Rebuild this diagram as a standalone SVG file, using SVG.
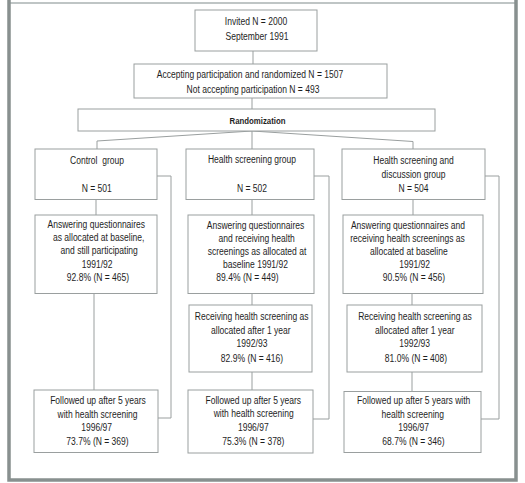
<svg xmlns="http://www.w3.org/2000/svg" width="525" height="483" viewBox="0 0 525 483">
<style>
.box{fill:#fff;stroke:#9a9f9f;stroke-width:1}
.ln{fill:none;stroke:#9a9f9f;stroke-width:1}
text{font-family:"Liberation Sans",Arial,sans-serif;font-size:10.8px;fill:#1e1e1e;text-anchor:middle}
.b{font-weight:bold;font-size:9.9px}
</style>
<rect width="525" height="483" fill="#fff"/>
<g id="frame">
<line x1="9" y1="3" x2="516" y2="3" stroke="#aab2b2" stroke-width="1.3"/>
<path d="M9 0 V480 H516 V0" fill="none" stroke="#88908f" stroke-width="3.5"/>
</g>
<g id="connectors">
<line class="ln" x1="253" y1="51" x2="253" y2="64"/>
<line class="ln" x1="252" y1="98" x2="252" y2="109"/>
<polyline class="ln" points="252,131 97,141 97,149"/>
<line class="ln" x1="252" y1="131" x2="252" y2="149"/>
<polyline class="ln" points="252,131 413,141.5 413,149"/>
<polyline class="ln" points="157,176 171,176 171,418 158,418"/>
<polyline class="ln" points="314,176 329,176 329,419 313,419"/>
<polyline class="ln" points="485,176 499,176 499,419 481,419"/>
<line class="ln" x1="96" y1="199.5" x2="96" y2="215"/>
<line class="ln" x1="252" y1="199.5" x2="252" y2="215"/>
<line class="ln" x1="413" y1="199.5" x2="413" y2="215"/>
<line class="ln" x1="94" y1="293.5" x2="94" y2="390"/>
<line class="ln" x1="252" y1="293.5" x2="252" y2="305"/>
<line class="ln" x1="412" y1="293.5" x2="412" y2="305"/>
<line class="ln" x1="252" y1="372" x2="252" y2="390"/>
<line class="ln" x1="412" y1="372" x2="412" y2="391"/>
</g>
<g id="invited">
<rect class="box" x="195" y="10" width="122" height="41"/>
<text transform="translate(256 25) scale(.79 1)">Invited N = 2000</text>
<text transform="translate(257 39.5) scale(.79 1)">September 1991</text>
</g>
<g id="accepting">
<rect class="box" x="134" y="64" width="253" height="34"/>
<text transform="translate(250 77.5) scale(.79 1)">Accepting participation and randomized N = 1507</text>
<text transform="translate(253 93) scale(.79 1)">Not accepting participation N = 493</text>
</g>
<g id="randomization">
<rect class="box" x="78" y="109" width="357" height="22"/>
<text class="b" transform="translate(257.5 123.5) scale(.79 1)">Randomization</text>
</g>
<g id="control">
<rect class="box" x="35" y="149" width="122" height="50.5"/>
<text transform="translate(97 163.5) scale(.79 1)" xml:space="preserve">Control  group</text>
<text transform="translate(96.7 191.5) scale(.79 1)">N = 501</text>
</g>
<g id="screening">
<rect class="box" x="186" y="149" width="128" height="50.5"/>
<text transform="translate(252 163) scale(.79 1)">Health screening group</text>
<text transform="translate(252 191.5) scale(.79 1)">N = 502</text>
</g>
<g id="discussion">
<rect class="box" x="342" y="149" width="143" height="50.5"/>
<text transform="translate(413.5 164) scale(.79 1)">Health screening and</text>
<text transform="translate(413.5 177.5) scale(.79 1)">discussion group</text>
<text transform="translate(413.5 192) scale(.79 1)">N = 504</text>
</g>
<g id="control-baseline">
<rect class="box" x="35" y="215" width="122" height="78.5"/>
<text transform="translate(96.3 228) scale(.79 1)">Answering questionnaires</text>
<text transform="translate(98.7 241) scale(.79 1)">as allocated at baseline,</text>
<text transform="translate(99.2 254) scale(.79 1)">and still participating</text>
<text transform="translate(97.2 267.5) scale(.79 1)">1991/92</text>
<text transform="translate(98 280.5) scale(.79 1)">92.8% (N = 465)</text>
</g>
<g id="screening-baseline">
<rect class="box" x="188" y="215" width="126" height="78.5"/>
<text transform="translate(255.5 228.5) scale(.79 1)">Answering questionnaires</text>
<text transform="translate(256.7 241.5) scale(.79 1)">and receiving health</text>
<text transform="translate(257 254.5) scale(.79 1)">screenings as allocated at</text>
<text transform="translate(255.5 267.5) scale(.79 1)">baseline 1991/92</text>
<text transform="translate(247.5 280.5) scale(.79 1)">89.4% (N = 449)</text>
</g>
<g id="discussion-baseline">
<rect class="box" x="343" y="215" width="140" height="78.5"/>
<text transform="translate(408 228.5) scale(.79 1)">Answering questionnaires and</text>
<text transform="translate(407.5 241.5) scale(.79 1)">receiving health screenings as</text>
<text transform="translate(408.8 254.5) scale(.79 1)">allocated at baseline</text>
<text transform="translate(414.7 267.5) scale(.79 1)">1991/92</text>
<text transform="translate(414 280.5) scale(.79 1)">90.5% (N = 456)</text>
</g>
<g id="screening-year1">
<rect class="box" x="189" y="305" width="123" height="67"/>
<text transform="translate(251.7 319.5) scale(.79 1)">Receiving health screening as</text>
<text transform="translate(250.8 334) scale(.79 1)">allocated after 1 year</text>
<text transform="translate(252 347) scale(.79 1)">1992/93</text>
<text transform="translate(252 362) scale(.79 1)">82.9% (N = 416)</text>
</g>
<g id="discussion-year1">
<rect class="box" x="347" y="305" width="135" height="67"/>
<text transform="translate(415 319.5) scale(.79 1)">Receiving health screening as</text>
<text transform="translate(414.7 334) scale(.79 1)">allocated after 1 year</text>
<text transform="translate(414.7 347) scale(.79 1)">1992/93</text>
<text transform="translate(416 362) scale(.79 1)">81.0% (N = 408)</text>
</g>
<g id="control-followup">
<rect class="box" x="34" y="390" width="124" height="62.5"/>
<text transform="translate(98 404) scale(.79 1)">Followed up after 5 years</text>
<text transform="translate(97.5 417.5) scale(.79 1)">with health screening</text>
<text transform="translate(96.7 431) scale(.79 1)">1996/97</text>
<text transform="translate(97.5 444.5) scale(.79 1)">73.7% (N = 369)</text>
</g>
<g id="screening-followup">
<rect class="box" x="188" y="390" width="125" height="63"/>
<text transform="translate(253.3 404) scale(.79 1)">Followed up after 5 years</text>
<text transform="translate(253.7 417) scale(.79 1)">with health screening</text>
<text transform="translate(253.3 430.5) scale(.79 1)">1996/97</text>
<text transform="translate(253.3 444.5) scale(.79 1)">75.3% (N = 378)</text>
</g>
<g id="discussion-followup">
<rect class="box" x="344" y="391.5" width="137" height="61"/>
<text transform="translate(413.7 404) scale(.79 1)">Followed up after 5 years with</text>
<text transform="translate(412.8 417.5) scale(.79 1)">health screening</text>
<text transform="translate(413.7 431) scale(.79 1)">1996/97</text>
<text transform="translate(413.5 444.5) scale(.79 1)">68.7% (N = 346)</text>
</g>
</svg>
